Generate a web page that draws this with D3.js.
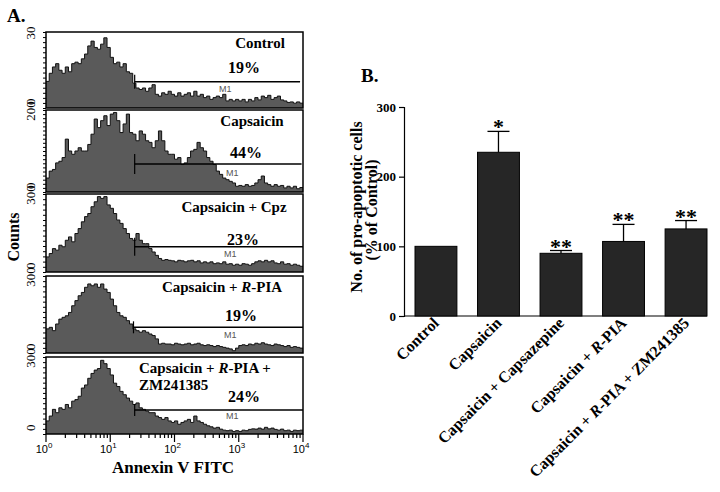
<!DOCTYPE html>
<html><head><meta charset="utf-8">
<script src="https://cdn.jsdelivr.net/npm/d3@7"></script>
<style>
body{margin:0;background:#fff}
svg{display:block}
</style></head><body>
<svg id="c" width="720" height="492"></svg>
<script>
// ---------------- DATA ----------------
const histNames = ["Control", "Capsaicin", "Capsaicin + Cpz", "Capsaicin + R-PIA", "Capsaicin + R-PIA + ZM241385"];
const histPercents = ["19%", "44%", "23%", "19%", "24%"];
const histYMax = [30, 200, 300, 300, 300];
const binsPerDecade = 20;
const ctrlCounts = [10.5,13.7,16.2,17.5,14.9,13.7,16.2,14.3,17.5,18.1,17.5,19.4,21.3,24.5,26.4,23.9,23.2,25.2,27.7,23.9,
  20.0,17.5,18.1,16.2,17.5,14.3,13.7,9.8,7.9,7.3,7.9,6.6,7.9,9.2,5.4,4.7,6.0,5.4,6.6,5.4,
  4.7,6.0,4.7,5.4,6.0,4.7,6.6,4.7,5.4,4.1,4.7,3.4,4.1,4.7,4.1,5.4,2.8,3.4,2.8,3.4,
  2.8,3.4,2.4,3.4,2.8,4.1,3.2,4.7,4.1,5.0,3.4,4.1,4.7,3.2,2.8,2.2,2.4,1.9,2.4,1.9];
const capCounts = [34,51,55,71,75,84,129,100,92,100,108,100,100,116,141,178,157,174,186,162,
  190,194,174,145,166,190,145,141,125,149,141,125,121,108,125,149,125,100,92,92,
  80,84,67,71,84,100,104,121,108,100,84,75,67,51,43,34,30,26,22,14,
  16,14,18,14,16,22,30,39,22,18,14,18,14,16,10,14,10,14,8,11];
const cpzCounts = [58,71,90,84,103,97,122,135,116,148,167,193,213,225,251,270,290,283,290,258,
  245,225,200,187,167,148,129,122,148,122,109,109,90,77,64,52,45,48,45,43,
  39,45,43,39,43,45,39,43,35,39,35,39,32,35,32,39,30,32,26,30,
  26,32,30,26,32,39,43,39,45,39,43,35,32,39,30,32,26,30,26,22];
const rpiaCounts = [94,100,87,113,132,139,145,158,184,204,223,236,256,269,262,269,256,269,249,236,
  210,184,158,145,139,126,113,94,87,81,87,81,74,68,55,35,38,35,35,32,
  38,35,32,35,38,32,35,38,32,29,32,29,25,29,25,22,19,16,9,19,
  29,32,29,35,32,38,35,40,35,32,29,35,32,29,25,29,22,25,22,19];
const zmCounts = [51,70,96,83,102,96,115,102,128,134,147,179,191,217,236,249,255,287,274,255,
  230,198,185,166,153,140,128,115,121,102,96,89,83,83,70,64,57,64,51,45,
  51,38,45,51,57,45,70,51,45,38,32,28,23,26,19,15,13,15,10,13,
  10,15,13,18,20,19,23,19,26,20,23,18,15,19,13,15,10,15,13,15];
const histSeries = [ctrlCounts, capCounts, cpzCounts, rpiaCounts, zmCounts];
const gateStart = [24, 24, 24, 23, 24];      // M1 gate, lower channel
const gateEnd = [9000, 9500, 10000, 10000, 10000];
const xTickExps = [0, 1, 2, 3, 4];

const barCategories = ["Control", "Capsaicin", "Capsaicin + Capsazepine", "Capsaicin + R-PIA", "Capsaicin + R-PIA + ZM241385"];
const barMeans = [100, 235, 90, 107, 125];
const barErrors = [0, 30, 4, 24.5, 12];
const barStars = ["", "*", "**", "**", "**"];
const barYTicks = [0, 100, 200, 300];

// ---------------- LAYOUT ----------------
const svg = d3.select("#c");
const SERIF = "'Liberation Serif','Times New Roman',serif";
const SANS = "'Liberation Sans',Arial,sans-serif";
const X0 = 46, X1 = 303;
const panels = [
  {top: 32, bottom: 108, name: [[260, 48]], pct: [244, 73], gateY: 81.7, gateTick: 7, m1: [219, 92]},
  {top: 110, bottom: 192, name: [[252, 126]], pct: [246, 158], gateY: 164, gateTick: 10, m1: [226, 176]},
  {top: 194, bottom: 272, name: [[234, 212]], pct: [243, 245], gateY: 246.7, gateTick: 9, m1: [224, 257]},
  {top: 276, bottom: 353, name: [[222, 292]], pct: [241, 321], gateY: 327.3, gateTick: 6, m1: [224, 338]},
  {top: 357, bottom: 434, name: [[139, 373], [139, 390]], pct: [244, 402], gateY: 410, gateTick: 6, m1: [226, 419]}
];

const x = d3.scaleLog().domain([1, 1e4]).range([X0, X1]);

function addRichText(sel, str) {
  const parts = str.split(/(R-PIA)/);
  parts.forEach(p => {
    if (p === "R-PIA") {
      sel.append("tspan").attr("font-style", "italic").text("R");
      sel.append("tspan").text("-PIA");
    } else if (p.length) sel.append("tspan").text(p);
  });
}

svg.append("text").attr("x", 7).attr("y", 22).attr("font-family", SERIF).attr("font-weight", "bold")
  .attr("font-size", 19).text("A.");

panels.forEach((p, k) => {
  const y = d3.scaleLinear().domain([0, histYMax[k]]).range([p.bottom, p.top]);
  const g = svg.append("g");
  const clipId = "clip" + k;
  svg.append("clipPath").attr("id", clipId).append("rect")
    .attr("x", X0).attr("y", p.top).attr("width", X1 - X0).attr("height", p.bottom - p.top);
  const pts = histSeries[k].map((c, i) => ({v: Math.pow(10, i / binsPerDecade), c}));
  pts.push({v: 1e4, c: histSeries[k][histSeries[k].length - 1]});
  const area = d3.area().curve(d3.curveStepAfter).x(d => x(d.v)).y0(p.bottom).y1(d => y(d.c));
  const line = d3.line().curve(d3.curveStepAfter).x(d => x(d.v)).y(d => y(d.c));
  g.append("path").attr("clip-path", `url(#${clipId})`).attr("d", area(pts)).attr("fill", "#5a5a5a");
  g.append("path").attr("clip-path", `url(#${clipId})`).attr("d", line(pts)).attr("fill", "none")
    .attr("stroke", "#111").attr("stroke-width", 1);
  g.append("rect").attr("x", X0).attr("y", p.top).attr("width", X1 - X0).attr("height", p.bottom - p.top)
    .attr("fill", "none").attr("stroke", "#000").attr("stroke-width", 1.5);
  const ya = d3.axisLeft(y).ticks(16).tickSize(3).tickFormat("");
  const yg = g.append("g").attr("transform", `translate(${X0},0)`).call(ya);
  yg.select(".domain").remove();
  yg.selectAll("line").attr("stroke", "#000");
  [[histYMax[k], p.top + 1], [0, p.bottom - 3]].forEach(([v, yy], j) => {
    g.append("text").attr("transform", `translate(${35},${yy}) rotate(-90)`)
      .attr("text-anchor", j === 0 ? "middle" : "start").attr("font-family", SERIF).attr("font-size", 13)
      .text(v);
  });
  const gy = p.gateY;
  g.append("line").attr("x1", x(gateStart[k])).attr("x2", x(gateEnd[k])).attr("y1", gy).attr("y2", gy)
    .attr("stroke", "#000").attr("stroke-width", 1.4);
  g.append("line").attr("x1", x(gateStart[k])).attr("x2", x(gateStart[k]))
    .attr("y1", gy - p.gateTick).attr("y2", gy + p.gateTick).attr("stroke", "#000").attr("stroke-width", 1.2);
  g.append("text").attr("x", p.m1[0]).attr("y", p.m1[1]).attr("font-family", SANS).attr("font-size", 9)
    .attr("fill", "#555").text("M1");
  if (p.name.length === 1) {
    const t = g.append("text").attr("x", p.name[0][0]).attr("y", p.name[0][1]).attr("text-anchor", "middle")
      .attr("font-family", SERIF).attr("font-weight", "bold").attr("font-size", 15);
    addRichText(t, histNames[k]);
  } else {
    const t1 = g.append("text").attr("x", p.name[0][0]).attr("y", p.name[0][1])
      .attr("font-family", SERIF).attr("font-weight", "bold").attr("font-size", 15);
    addRichText(t1, "Capsaicin + R-PIA +");
    g.append("text").attr("x", p.name[1][0]).attr("y", p.name[1][1])
      .attr("font-family", SERIF).attr("font-weight", "bold").attr("font-size", 15).text("ZM241385");
  }
  g.append("text").attr("x", p.pct[0]).attr("y", p.pct[1]).attr("text-anchor", "middle")
    .attr("font-family", SERIF).attr("font-weight", "bold").attr("font-size", 16).text(histPercents[k]);
});

const lastP = panels[panels.length - 1];
const tickVals = [];
for (let e = 0; e < 4; e++) for (let m = 1; m < 10; m++) tickVals.push(m * Math.pow(10, e));
tickVals.push(1e4);
const xAxisG = svg.append("g").attr("transform", `translate(0,${lastP.bottom})`);
tickVals.forEach(v => {
  const major = Math.abs(Math.log10(v) - Math.round(Math.log10(v))) < 1e-9;
  xAxisG.append("line").attr("x1", x(v)).attr("x2", x(v)).attr("y1", 0).attr("y2", major ? 8 : 4)
    .attr("stroke", "#000").attr("stroke-width", 1.2);
});
xTickExps.forEach(e => {
  const t = xAxisG.append("text").attr("x", x(Math.pow(10, e)) - 2).attr("y", 19).attr("text-anchor", "middle")
    .attr("font-family", SANS).attr("font-size", 11);
  t.append("tspan").text("10");
  t.append("tspan").attr("font-size", 8).attr("dy", -5).text(e);
});
svg.append("text").attr("x", 173).attr("y", 473).attr("text-anchor", "middle").attr("font-family", SERIF)
  .attr("font-weight", "bold").attr("font-size", 17).text("Annexin V FITC");
svg.append("text").attr("transform", "translate(19,237) rotate(-90)").attr("text-anchor", "middle")
  .attr("font-family", SERIF).attr("font-weight", "bold").attr("font-size", 16).text("Counts");

// ---------------- PANEL B ----------------
svg.append("text").attr("x", 361).attr("y", 82).attr("font-family", SERIF).attr("font-weight", "bold")
  .attr("font-size", 19).text("B.");
const bx = d3.scaleBand().domain(barCategories).range([404, 718]).paddingInner(0.33).paddingOuter(0.176);
const by = d3.scaleLinear().domain([0, 300]).range([316, 107]);
const gb = svg.append("g");
const yAx = gb.append("g").attr("transform", "translate(404,0)")
  .call(d3.axisLeft(by).tickValues(barYTicks).tickSize(5).tickPadding(3));
yAx.select(".domain").attr("stroke", "#000").attr("stroke-width", 1.2);
yAx.selectAll("line").attr("stroke", "#000").attr("stroke-width", 1.2);
yAx.selectAll("text").attr("font-family", SERIF).attr("font-weight", "bold").attr("font-size", 13).attr("fill", "#000");
gb.append("line").attr("x1", 404).attr("x2", bx(barCategories[barCategories.length - 1]) + bx.bandwidth())
  .attr("y1", by(0)).attr("y2", by(0)).attr("stroke", "#000").attr("stroke-width", 1.2);

barCategories.forEach((c, i) => {
  const bxp = bx(c), bw = bx.bandwidth(), cx = bxp + bw / 2;
  if (barErrors[i] > 0) {
    const top = by(barMeans[i] + barErrors[i]);
    gb.append("line").attr("x1", cx).attr("x2", cx).attr("y1", by(barMeans[i])).attr("y2", top)
      .attr("stroke", "#000").attr("stroke-width", 1.3);
    gb.append("line").attr("x1", cx - 11).attr("x2", cx + 11).attr("y1", top).attr("y2", top)
      .attr("stroke", "#000").attr("stroke-width", 1.3);
  }
  gb.append("rect").attr("x", bxp).attr("y", by(barMeans[i])).attr("width", bw)
    .attr("height", by(0) - by(barMeans[i])).attr("fill", "#262626").attr("stroke", "#000").attr("stroke-width", 1);
  if (barStars[i]) {
    gb.append("text").attr("x", cx).attr("y", by(barMeans[i] + barErrors[i]) + 3).attr("text-anchor", "middle")
      .attr("font-family", SERIF).attr("font-weight", "bold").attr("font-size", 22).text(barStars[i]);
  }
  const t = gb.append("text").attr("transform", `translate(${cx + 4},${324}) rotate(-45)`)
    .attr("text-anchor", "end").attr("font-family", SERIF).attr("font-weight", "bold").attr("font-size", 16);
  addRichText(t, c);
});
svg.append("text").attr("transform", "translate(362,207) rotate(-90)").attr("text-anchor", "middle")
  .attr("font-family", SERIF).attr("font-weight", "bold").attr("font-size", 16).text("No. of pro-apoptotic cells");
svg.append("text").attr("transform", "translate(377,210) rotate(-90)").attr("text-anchor", "middle")
  .attr("font-family", SERIF).attr("font-weight", "bold").attr("font-size", 16).text("(% of Control)");
</script>
</body></html>
